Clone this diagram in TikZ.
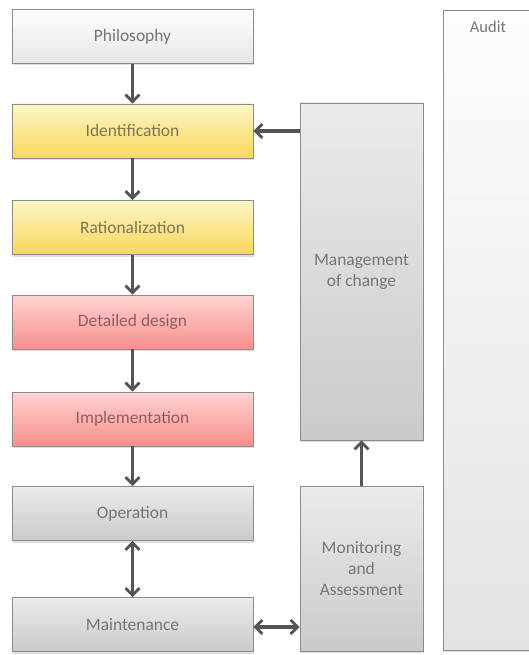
\documentclass[tikz,border=0pt]{standalone}
\usepackage{fontspec}
\setmainfont{Carlito}
\usetikzlibrary{arrows.meta,shadows}
\definecolor{arr}{HTML}{555555}
\definecolor{bord}{HTML}{8C8C8C}
\definecolor{txtgray}{HTML}{767676}
\definecolor{txtyel}{HTML}{807552}
\definecolor{txtred}{HTML}{955C5C}
\definecolor{whtop}{HTML}{FEFEFE}
\definecolor{whbot}{HTML}{E6E6E6}
\definecolor{yetop}{HTML}{FDF6C6}
\definecolor{yebot}{HTML}{F8D75C}
\definecolor{retop}{HTML}{FED3D2}
\definecolor{rebot}{HTML}{F7908B}
\definecolor{grtop}{HTML}{EAEBEB}
\definecolor{grbot}{HTML}{C8CACC}
\definecolor{autop}{HTML}{FDFDFD}
\definecolor{aubot}{HTML}{E3E3E3}
\tikzset{
  boxbase/.style={draw=bord, line width=0.9bp, rectangle, align=center,
    font=\fontsize{17.5}{21}\selectfont,
    drop shadow={shadow xshift=1bp, shadow yshift=-2bp, opacity=0.25}},
  leftbox/.style={boxbase, minimum width=241bp, minimum height=54bp},
  whitebox/.style={leftbox, top color=whtop, bottom color=whbot, text=txtgray},
  yellowbox/.style={leftbox, top color=yetop, bottom color=yebot, text=txtyel},
  redbox/.style={leftbox, top color=retop, bottom color=rebot, text=txtred},
  graybox/.style={leftbox, top color=grtop, bottom color=grbot, text=txtgray},
  tallbox/.style={boxbase, minimum width=123bp, top color=grtop, bottom color=grbot, text=txtgray},
  conn/.style={draw=arr, line width=3.2bp, -{Straight Barb[length=7bp, width=14bp, line width=2.8bp]}},
  dconn/.style={conn, {Straight Barb[length=7bp, width=14bp, line width=2.8bp]}-{Straight Barb[length=7bp, width=14bp, line width=2.8bp]}}
}
\begin{document}
\begin{tikzpicture}[x=1bp, y=-1bp]
\useasboundingbox (0,0) rectangle (529,655);
\fill[white] (0,0) rectangle (529,655);
% audit panel
\begin{scope}
\clip (0,0) rectangle (529,655);
\node[boxbase, minimum width=110bp, minimum height=640bp, top color=autop, bottom color=aubot, anchor=north west, draw=bord] (audit) at (443,10) {};
\end{scope}
\node[text=txtgray, font=\fontsize{16.5}{20}\selectfont] (audittxt) at (488,27) {Audit};

\node[whitebox] (phil) at (132.5,36.5) {Philosophy};
\node[yellowbox] (ident) at (132.5,131) {Identification};
\node[yellowbox] (rat) at (132.5,227.5) {Rationalization};
\node[redbox] (det) at (132.5,322) {Detailed design};
\node[redbox] (impl) at (132.5,419) {Implementation};
\node[graybox] (oper) at (132.5,513.5) {Operation};
\node[graybox] (maint) at (132.5,624.5) {Maintenance};

\node[tallbox, minimum height=337bp] (mgmt) at (361.5,271.5) {Management\\of change};
\node[tallbox, minimum height=165bp] (mon) at (361.5,568.5) {Monitoring\\and\\Assessment};

\draw[conn] (phil) -- (ident);
\draw[conn] (ident) -- (rat);
\draw[conn] (rat) -- (det);
\draw[conn] (det) -- (impl);
\draw[conn] (impl) -- (oper);
\draw[dconn] (oper) -- (maint);
\draw[conn] (ident.east -| mgmt.west) -- (ident.east);
\draw[conn] (mon) -- (mgmt);
\draw[dconn] ([yshift=-2.5bp]maint.east) -- ([yshift=-2.5bp]maint.east -| mon.west);
\end{tikzpicture}
\end{document}
